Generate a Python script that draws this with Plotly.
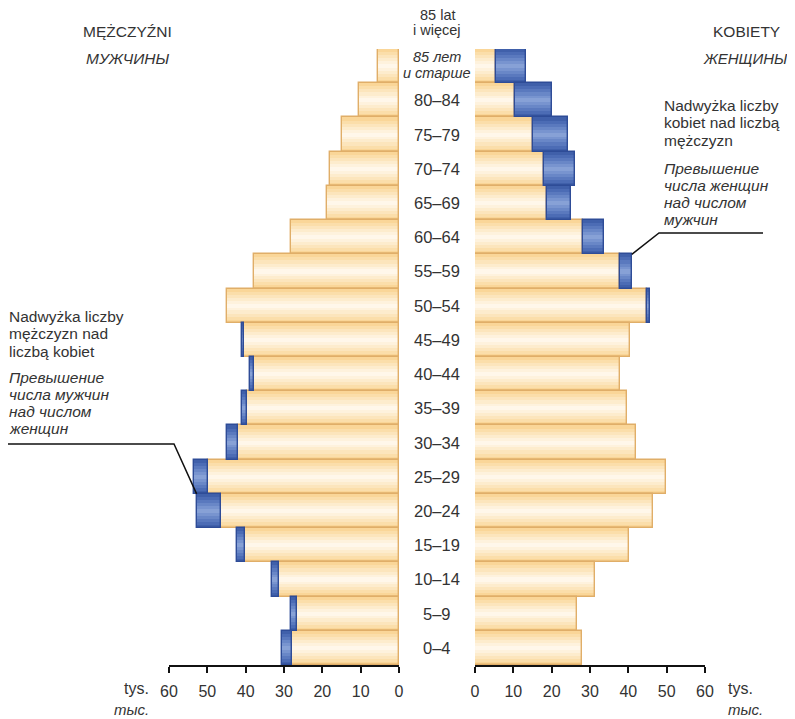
import plotly.graph_objects as go

# ---------------- data (thousands) ----------------
age_groups = ["0–4", "5–9", "10–14", "15–19", "20–24", "25–29", "30–34", "35–39",
              "40–44", "45–49", "50–54", "55–59", "60–64", "65–69", "70–74",
              "75–79", "80–84", "85+"]
men = [30.5, 28.1, 33.1, 42.3, 52.8, 53.6, 45.0, 41.0, 38.8, 41.0, 44.8, 37.8,
       28.2, 18.8, 17.9, 15.0, 10.4, 5.6]
women = [27.9, 26.5, 31.3, 40.1, 46.5, 49.8, 41.9, 39.6, 37.7, 40.4, 45.6, 40.9,
         33.7, 25.0, 26.2, 24.3, 20.0, 13.2]
x_ticks = [0, 10, 20, 30, 40, 50, 60]

W, H = 795, 719
OFF = 8  # page body margin
FONT = "Liberation Sans, Arial, sans-serif"
TXT = "#333333"

# layout geometry (target pixels in the screenshot)
L_DOM = (169, 399)
R_DOM = (475, 705)
Y_BOT, Y_TOP = 665, 49


def px_x(p):
    return (p - OFF) / W


def px_y(p):
    return (H - (p - OFF)) / H


n = len(age_groups)
ypos = list(range(n))
common = [min(m, w) for m, w in zip(men, women)]
men_extra = [max(m - w, 0) for m, w in zip(men, women)]
women_extra = [max(w - m, 0) for m, w in zip(men, women)]

yellow_layers = [(1.0, "#FAD698"), (0.82, "#FBDEAA"), (0.64, "#FCE5BC"),
                 (0.46, "#FDECCD"), (0.28, "#FEF2DD"), (0.12, "#FFF7EA")]
blue_layers = [(1.0, "#4060AA"), (0.82, "#4C6CB5"), (0.64, "#5A79BE"),
               (0.46, "#6987C7"), (0.28, "#7894CF"), (0.12, "#87A1D6")]
YELLOW_LINE = "#E0AE68"
BLUE_LINE = "#2E4C97"

fig = go.Figure()


def add_bars(xvals, base, layers, line_color, xaxis):
    vals = list(xvals)
    for wdt, col in layers:
        fig.add_trace(go.Bar(
            y=ypos, x=vals, base=base, orientation="h", width=wdt,
            marker=dict(color=col, line=dict(width=0)),
            xaxis=xaxis, yaxis="y", showlegend=False, hoverinfo="skip"))
    # outline only
    fig.add_trace(go.Bar(
        y=ypos, x=vals, base=base, orientation="h", width=1.0,
        marker=dict(color="rgba(0,0,0,0)", line=dict(width=1.4, color=line_color)),
        xaxis=xaxis, yaxis="y", showlegend=False, hoverinfo="skip"))


def keep(vals):
    return [v if v > 0 else None for v in vals]


# men (left)
add_bars(common, None, yellow_layers, YELLOW_LINE, "x")
add_bars(keep(men_extra), common, blue_layers, BLUE_LINE, "x")
# women (right)
add_bars(common, None, yellow_layers, YELLOW_LINE, "x2")
add_bars(keep(women_extra), common, blue_layers, BLUE_LINE, "x2")

axis_common = dict(
    tickvals=x_ticks, ticks="outside", ticklen=6, tickwidth=1.5, tickcolor="#111111",
    showline=True, linecolor="#111111", linewidth=1.5, showgrid=False, zeroline=False,
    tickfont=dict(family=FONT, size=16, color=TXT), fixedrange=True,
    automargin=False, ticklabelstandoff=5,
)

fig.update_layout(
    width=W, height=H, margin=dict(l=0, r=0, t=0, b=0, pad=0, autoexpand=False),
    paper_bgcolor="white", plot_bgcolor="rgba(0,0,0,0)",
    barmode="overlay", bargap=0, showlegend=False,
    xaxis=dict(domain=[px_x(L_DOM[0]), px_x(L_DOM[1])], range=[60, 0], anchor="y",
               **axis_common),
    xaxis2=dict(domain=[px_x(R_DOM[0]), px_x(R_DOM[1])], range=[0, 60], anchor="y",
                **axis_common),
    yaxis=dict(domain=[px_y(Y_BOT), px_y(Y_TOP)], range=[-0.5, n - 0.5],
               visible=False, fixedrange=True, automargin=False),
)

ann = []


def text(x, y, s, size=16, italic=False, xanchor="center", xref="paper", yref="paper"):
    ann.append(dict(
        x=x, y=y, xref=xref, yref=yref, text=s, showarrow=False,
        xanchor=xanchor, yanchor="middle", borderpad=0,
        font=dict(family=FONT, size=size, color=TXT,
                  style="italic" if italic else "normal")))


# centre age labels
CX = px_x((L_DOM[1] + R_DOM[0]) / 2)
for i, lab in enumerate(age_groups[:-1]):
    text(CX, i, lab, size=16.5, yref="y")
# 85+ group
text(CX, px_y(57), "85 лет", size=14.5, italic=True)
text(CX, px_y(73), "и старше", size=14.5, italic=True)
text(CX, px_y(15), "85 lat", size=14.5)
text(CX, px_y(30), "i więcej", size=14.5)

# headers
text(px_x(127), px_y(31), "MĘŻCZYŹNI", size=15.5)
text(px_x(127), px_y(58), "МУЖЧИНЫ", size=15.5, italic=True)
text(px_x(746), px_y(31), "KOBIETY", size=15.5)
text(px_x(745), px_y(58), "ЖЕНЩИНЫ", size=15, italic=True)

# units
text(px_x(136), px_y(688), "tys.", size=16)
text(px_x(131), px_y(709), "тыс.", size=15, italic=True)
text(px_x(740), px_y(688), "tys.", size=16)
text(px_x(745), px_y(709), "тыс.", size=15, italic=True)

# left callout
left_pl = ["Nadwyżka liczby", "mężczyzn nad", "liczbą kobiet"]
left_ru = ["Превышение", "числа мужчин", "над числом", "женщин"]
for k, s in enumerate(left_pl):
    text(px_x(8), px_y(316 + 17.5 * k), s, size=15.5, xanchor="left")
for k, s in enumerate(left_ru):
    text(px_x(8), px_y(377 + 17.3 * k), s, size=15.5, italic=True, xanchor="left")

# right callout
right_pl = ["Nadwyżka liczby", "kobiet nad liczbą", "mężczyzn"]
right_ru = ["Превышение", "числа женщин", "над числом", "мужчин"]
for k, s in enumerate(right_pl):
    text(px_x(663), px_y(105 + 17.5 * k), s, size=15.5, xanchor="left")
for k, s in enumerate(right_ru):
    text(px_x(663), px_y(168 + 17.2 * k), s, size=15.5, italic=True, xanchor="left")

fig.update_layout(annotations=ann)


# leader lines (paper coords computed from the axis mappings)
def left_data_to_px(v, yi):
    xpx = L_DOM[1] - v / 60 * (L_DOM[1] - L_DOM[0])
    ypx = Y_BOT - (yi + 0.5) / n * (Y_BOT - Y_TOP)
    return xpx, ypx


def right_data_to_px(v, yi):
    xpx = R_DOM[0] + v / 60 * (R_DOM[1] - R_DOM[0])
    ypx = Y_BOT - (yi + 0.5) / n * (Y_BOT - Y_TOP)
    return xpx, ypx


i_m = max(range(n), key=lambda i: men_extra[i])      # 25–29 group
ex, ey = left_data_to_px(men[i_m], i_m)
ey -= (Y_BOT - Y_TOP) / n / 2  # top edge of bar
fig.add_shape(type="path", xref="paper", yref="paper",
              path=f"M {px_x(8)},{px_y(444)} L {px_x(174)},{px_y(444)} L {px_x(ex)},{px_y(ey)}",
              line=dict(color="#111111", width=1.5))

i_w = age_groups.index("55–59")
rx, ry = right_data_to_px(women[i_w], i_w)
ry -= (Y_BOT - Y_TOP) / n / 2
fig.add_shape(type="path", xref="paper", yref="paper",
              path=f"M {px_x(763)},{px_y(233)} L {px_x(659)},{px_y(233)} L {px_x(rx)},{px_y(ry)}",
              line=dict(color="#111111", width=1.5))

fig.write_html("out.html")
